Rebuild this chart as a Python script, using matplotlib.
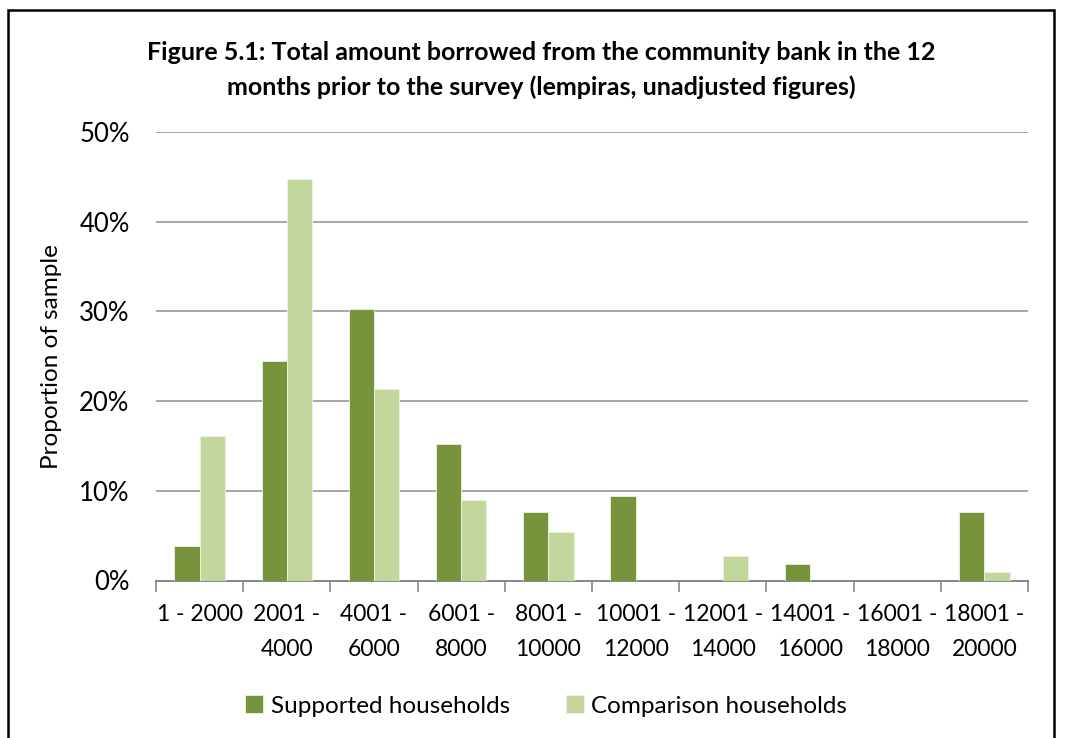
import numpy as np
import matplotlib.pyplot as plt
from matplotlib.patches import Rectangle

plt.rcParams['font.family'] = ['Lato', 'DejaVu Sans']

categories = ["1 - 2000", "2001 -\n4000", "4001 -\n6000", "6001 -\n8000", "8001 -\n10000",
              "10001 -\n12000", "12001 -\n14000", "14001 -\n16000", "16001 -\n18000", "18001 -\n20000"]
supported = [3.9, 24.5, 30.3, 15.2, 7.6, 9.4, 0, 1.85, 0, 7.6]
comparison = [16.1, 44.8, 21.4, 9.0, 5.4, 0, 2.75, 0, 0, 0.95]

W, H = 1080, 738
fig = plt.figure(figsize=(W / 100, H / 100), dpi=100)
ax = fig.add_axes([156 / W, 1 - 580.5 / H, (1028 - 156) / W, (580.5 - 132) / H])

x = np.arange(len(categories))
bw = 0.29
ax.bar(x - bw / 2, supported, bw, color="#77933C", edgecolor="#EEF3E2", linewidth=0.6,
       label="Supported households", zorder=3)
ax.bar(x + bw / 2, comparison, bw, color="#C3D69B", edgecolor="#EEF3E2", linewidth=0.6,
       label="Comparison households", zorder=3)

ax.set_xlim(-0.5, len(categories) - 0.5)
ax.set_ylim(0, 50)
ax.set_yticks(np.arange(0, 51, 10))
ax.set_yticklabels([f"{v}%" for v in range(0, 51, 10)], fontsize=18.5)
ax.yaxis.grid(True, color="#A6A6A6", linewidth=1.4, zorder=0)
ax.tick_params(axis="y", length=0, pad=19)

# category ticks at the boundaries, labels at the centres
ax.set_xticks(np.arange(-0.5, len(categories)), minor=False)
ax.set_xticklabels([])
ax.set_xticks(x, minor=True)
ax.set_xticklabels(categories, minor=True, fontsize=16.5, linespacing=1.8)
ax.tick_params(axis="x", which="major", length=8, color="#888888", width=1.2)
ax.tick_params(axis="x", which="minor", length=0, pad=17)

for s in ["top", "right", "left"]:
    ax.spines[s].set_visible(False)
ax.spines["bottom"].set_color("#888888")
ax.spines["bottom"].set_linewidth(1.4)

ax.set_ylabel("Proportion of sample", fontsize=17.5, labelpad=12)

fig.text(541 / W, 1 - 53 / H, "Figure 5.1: Total amount borrowed from the community bank in the 12",
         ha="center", va="center", fontsize=18, fontweight="bold")
fig.text(541 / W, 1 - 87 / H, "months prior to the survey (lempiras, unadjusted figures)",
         ha="center", va="center", fontsize=18, fontweight="bold")

fig.legend(loc="center", bbox_to_anchor=(546 / W, 1 - 706 / H), ncol=2, frameon=False,
           fontsize=17.5, handlelength=0.75, handleheight=0.75, handletextpad=0.3, columnspacing=2.3)

fig.patches.append(Rectangle((8 / W, -0.01), (1054 - 8) / W, 1.01 - 10 / H,
                             transform=fig.transFigure, fill=False, edgecolor="black", linewidth=1.8))

fig.savefig("out.png", dpi=100)
